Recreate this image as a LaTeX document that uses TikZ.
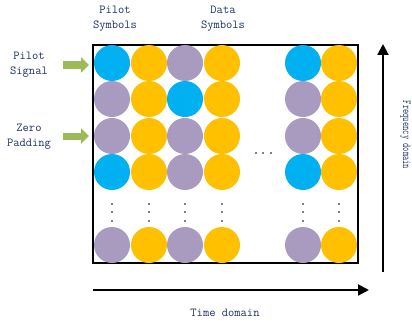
\documentclass[tikz,border=0pt]{standalone}
\usetikzlibrary{arrows.meta}
\definecolor{pilotblue}{RGB}{0,176,240}
\definecolor{datayellow}{RGB}{255,192,0}
\definecolor{zeropurple}{RGB}{169,155,191}
\definecolor{labelblue}{RGB}{28,50,104}
\definecolor{arrowgreen}{RGB}{155,187,89}
\tikzset{
  dot/.style={circle,minimum size=36pt,inner sep=0pt,draw=none},
  pil/.style={dot,fill=pilotblue},
  dat/.style={dot,fill=datayellow},
  zer/.style={dot,fill=zeropurple},
  lbl/.style={text=labelblue,font=\ttfamily\fontsize{12.2}{15}\selectfont,align=center,inner sep=0pt},
  axis/.style={line width=2pt,-{Triangle[length=11pt,width=11pt]}},
  inarrow/.style={arrowgreen,line width=7pt,-{Triangle[length=8pt,width=15pt]}}
}
\begin{document}
\begin{tikzpicture}[x=1pt,y=-1pt]
\useasboundingbox (0,0) rectangle (412,321);
% frame of the resource grid
\draw[line width=1.2pt] (93,45) rectangle (358,263);
% symbol rows
\foreach \r/\y/\a/\b/\cc/\d in {1/63/pil/dat/zer/dat, 2/99/zer/dat/pil/dat, 3/136/zer/dat/zer/dat, 4/172/pil/dat/zer/dat, 5/245/zer/dat/zer/dat} {
  \node[\a] (s\r-1) at (112,\y) {};
  \node[\b] (s\r-2) at (149,\y) {};
  \node[\cc] (s\r-3) at (185,\y) {};
  \node[\d] (s\r-4) at (222,\y) {};
  \node[\a] (s\r-5) at (303,\y) {};
  \node[\b] (s\r-6) at (339,\y) {};
}
% vertical ellipses
\foreach \x in {112,149,185,222,303,339} {
  \foreach \yy in {204,212,221} {
    \fill (\x,\yy) circle (0.9pt);
  }
}
% horizontal ellipsis
\foreach \x in {256,263,271} { \fill (\x,153) circle (0.9pt); }
% labels
\node[lbl] (pilsym) at (115,19) {Pilot\\Symbols};
\node[lbl] (datsym) at (223,19) {Data\\Symbols};
\node[lbl] (pilsig) at (29,65) {Pilot\\Signal};
\node[lbl] (zeropad) at (29,137) {Zero\\Padding};
\node[lbl] (tdom) at (225,313) {Time domain};
\node[lbl,rotate=-90] (fdom) at (405.5,135) {\scalebox{0.68}[1]{Frequency domain}};
% input arrows
\coordinate (pa) at (63,65);
\coordinate (pb) at (89,65);
\coordinate (za) at (63,136);
\coordinate (zb) at (89,136);
\draw[inarrow] (pa) -- (pb);
\draw[inarrow] (za) -- (zb);
% axes
\coordinate (t0) at (93,290);
\coordinate (t1) at (369,290);
\coordinate (f0) at (383,272);
\coordinate (f1) at (383,44);
\draw[axis] (t0) -- (t1);
\draw[axis] (f0) -- (f1);
\end{tikzpicture}
\end{document}
